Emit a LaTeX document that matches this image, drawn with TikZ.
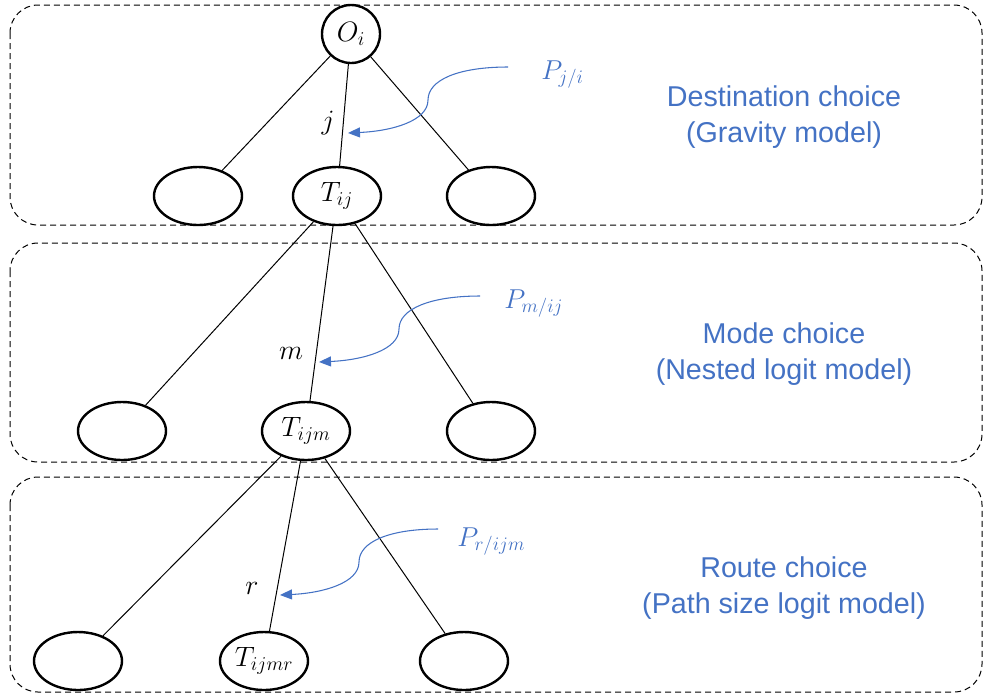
\RequirePackage{fix-cm}
\documentclass[tikz,border=0pt]{standalone}
\usepackage{fontspec}
\newfontfamily\labelfont{Liberation Sans}
\usetikzlibrary{arrows.meta,shapes.geometric}
\definecolor{ublue}{RGB}{68,114,196}
\begin{document}
\begin{tikzpicture}[x=0.75pt,y=-0.75pt,
  layerbox/.style={draw, dash pattern=on 4.5pt off 3pt, rounded corners=21pt, line width=0.75pt},
  circnode/.style={circle, draw, line width=1.8pt, minimum size=43.5pt, inner sep=0pt, font=\fontsize{21}{25}\selectfont},
  ellnode/.style={ellipse, draw, line width=1.8pt, minimum width=66pt, minimum height=43.5pt, inner sep=0pt, font=\fontsize{21}{25}\selectfont},
  edge/.style={draw, line width=0.75pt},
  branchlbl/.style={font=\fontsize{21}{25}\selectfont, inner sep=0pt},
  problbl/.style={text=ublue, font=\fontsize{20.5}{24}\selectfont, inner sep=0pt, anchor=base west},
  probarrow/.style={draw=ublue, line width=0.8pt, -{Triangle[length=9pt,width=7.5pt]}},
  note/.style={text=ublue, align=center, font=\labelfont\fontsize{21.5}{26.5}\selectfont}
]
\useasboundingbox (0,0) rectangle (984,694);

% layer boxes
\draw[layerbox] (10,5) rectangle (982,225);
\draw[layerbox] (10,243) rectangle (982,462);
\draw[layerbox] (10,477) rectangle (982,692);

% nodes
\node[circnode] (O) at (351,34) {$O_i$};
\node[ellnode] (d1) at (198,196) {};
\node[ellnode] (Tij) at (337,196) {$T_{ij}$};
\node[ellnode] (d3) at (491,196) {};

\node[ellnode] (m1) at (122,431) {};
\node[ellnode] (Tijm) at (306,431) {$T_{ijm}$};
\node[ellnode] (m3) at (491,431) {};

\node[ellnode] (r1) at (78,661) {};
\node[ellnode] (Tijmr) at (264,661) {$T_{ijmr}$};
\node[ellnode] (r3) at (464,661) {};

% edges
\draw[edge] (O) -- (d1);
\draw[edge] (O) -- (Tij);
\draw[edge] (O) -- (d3);
\draw[edge] (Tij) -- (m1);
\draw[edge] (Tij) -- (Tijm);
\draw[edge] (Tij) -- (m3);
\draw[edge] (Tijm) -- (r1);
\draw[edge] (Tijm) -- (Tijmr);
\draw[edge] (Tijm) -- (r3);

% branch labels
\node[branchlbl] (lj) at (328,123) {$j$};
\node[branchlbl] (lm) at (291,353) {$m$};
\node[branchlbl] (lr) at (252,588) {$r$};

% probability labels
\node[problbl] (p1) at (541,79) {$P_{j/i}$};
\node[problbl] (p2) at (504,308) {$P_{m/ij}$};
\node[problbl] (p3) at (457,546) {$P_{r/ijm}$};

% probability arrows
\coordinate (a1s) at (508,67);
\coordinate (a1e) at (348,133);
\draw[probarrow] (a1s) .. controls (458,67) and (428,80) .. (428,100) .. controls (428,121) and (392,131) .. (a1e);
\coordinate (a2s) at (480,296);
\coordinate (a2e) at (319,362);
\draw[probarrow] (a2s) .. controls (430,296) and (399,309) .. (399,329) .. controls (399,350) and (363,360) .. (a2e);
\coordinate (a3s) at (438,529);
\coordinate (a3e) at (280,595);
\draw[probarrow] (a3s) .. controls (389,529) and (359,542) .. (359,562) .. controls (359,583) and (323,593) .. (a3e);

% notes
\node[note] (n1) at (784,117) {Destination choice\\(Gravity model)};
\node[note] (n2) at (784,354) {Mode choice\\(Nested logit model)};
\node[note] (n3) at (784,588) {Route choice\\(Path size logit model)};
\end{tikzpicture}
\end{document}
